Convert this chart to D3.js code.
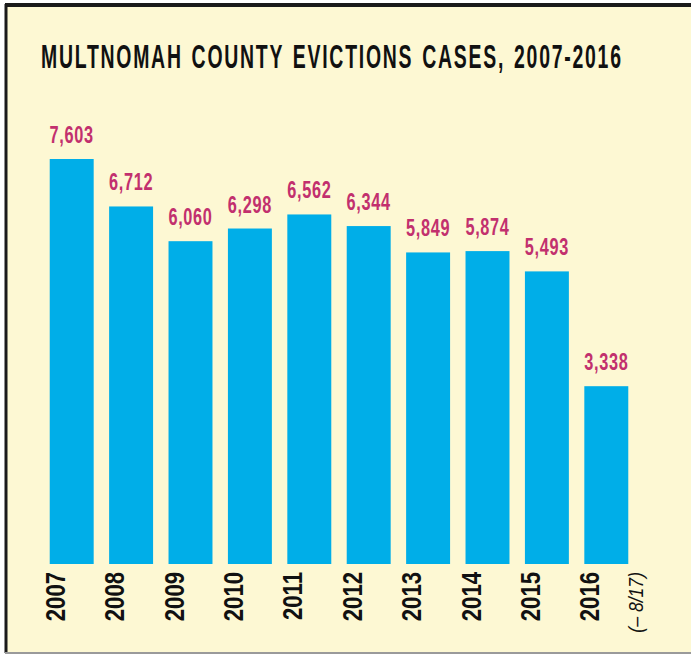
<!DOCTYPE html>
<html>
<head>
<meta charset="utf-8">
<script src="https://cdn.jsdelivr.net/npm/d3@7"></script>
<style>
  body { margin: 0; background: #fff; }
  svg { display: block; }
</style>
</head>
<body>
<div id="chart"></div>
<script>
// eviction case counts
const years = ["2007", "2008", "2009", "2010", "2011", "2012", "2013", "2014", "2015", "2016"];
const cases = [7603, 6712, 6060, 6298, 6562, 6344, 5849, 5874, 5493, 3338];
const title = "MULTNOMAH COUNTY EVICTIONS CASES, 2007-2016";
const footnote = "(– 8/17)";

const width = 691, height = 656;
const font = "'Liberation Sans', Arial, sans-serif";
const data = years.map((y, i) => ({ year: y, value: cases[i] }));

const svg = d3.select("#chart").append("svg")
    .attr("width", width)
    .attr("height", height);

// cream panel with dark top/left edge
svg.append("rect")
    .attr("x", 5).attr("y", 4)
    .attr("width", width - 5).attr("height", 648)
    .attr("fill", "#fdf8d3");
svg.append("line").attr("x1", 5).attr("x2", width).attr("y1", 5).attr("y2", 5)
    .attr("stroke", "#1a1a1a").attr("stroke-width", 4);
svg.append("line").attr("x1", 6).attr("x2", 6).attr("y1", 4).attr("y2", 653)
    .attr("stroke", "#1a1a1a").attr("stroke-width", 3);
svg.append("line").attr("x1", 5).attr("x2", width).attr("y1", 653).attr("y2", 653)
    .attr("stroke", "#9a9a9a").attr("stroke-width", 2);

// title: no condensed face installed, so measure and squeeze a normal one
const titleText = svg.append("text")
    .attr("text-anchor", "start")
    .style("font-family", font)
    .style("font-size", "33px")
    .style("font-weight", "bold")
    .style("letter-spacing", "3px")
    .style("word-spacing", "3px")
    .attr("fill", "#111")
    .text(title);
const tw = titleText.node().getBBox().width;
titleText.attr("transform", `translate(41,68) scale(${582 / tw},1)`);

const x = d3.scaleBand()
    .domain(years)
    .range([42, 636])
    .paddingInner(0.26)
    .paddingOuter(0.13);

const baseY = 564;
const y = d3.scaleLinear()
    .domain([0, 7603])
    .range([baseY, 159]);

svg.selectAll("rect.bar")
    .data(data)
    .join("rect")
    .attr("class", "bar")
    .attr("x", d => x(d.year))
    .attr("y", d => y(d.value))
    .attr("width", x.bandwidth())
    .attr("height", d => baseY - y(d.value))
    .attr("fill", "#00aee8");

svg.selectAll("text.val")
    .data(data)
    .join("text")
    .attr("class", "val")
    .attr("transform", d => `translate(${x(d.year) + x.bandwidth() / 2},${y(d.value) - 16}) scale(0.68,1)`)
    .attr("text-anchor", "middle")
    .style("font-family", font)
    .style("font-size", "24px")
    .style("font-weight", "bold")
    .style("letter-spacing", "1px")
    .attr("fill", "#c2306e")
    .text(d => d3.format(",")(d.value));

svg.selectAll("text.yr")
    .data(data)
    .join("text")
    .attr("class", "yr")
    .attr("transform", d => `translate(${x(d.year) + 15},572) rotate(-90) scale(0.82,1)`)
    .attr("text-anchor", "end")
    .style("font-family", font)
    .style("font-size", "27px")
    .style("font-weight", "bold")
    .attr("fill", "#111")
    .text(d => d.year);

svg.append("text")
    .attr("transform", `translate(${x("2016") + x.bandwidth() + 15},572) rotate(-90) scale(0.88,1)`)
    .attr("text-anchor", "end")
    .style("font-family", font)
    .style("font-size", "20px")
    .style("font-style", "italic")
    .attr("fill", "#111")
    .text(footnote);
</script>
</body>
</html>
